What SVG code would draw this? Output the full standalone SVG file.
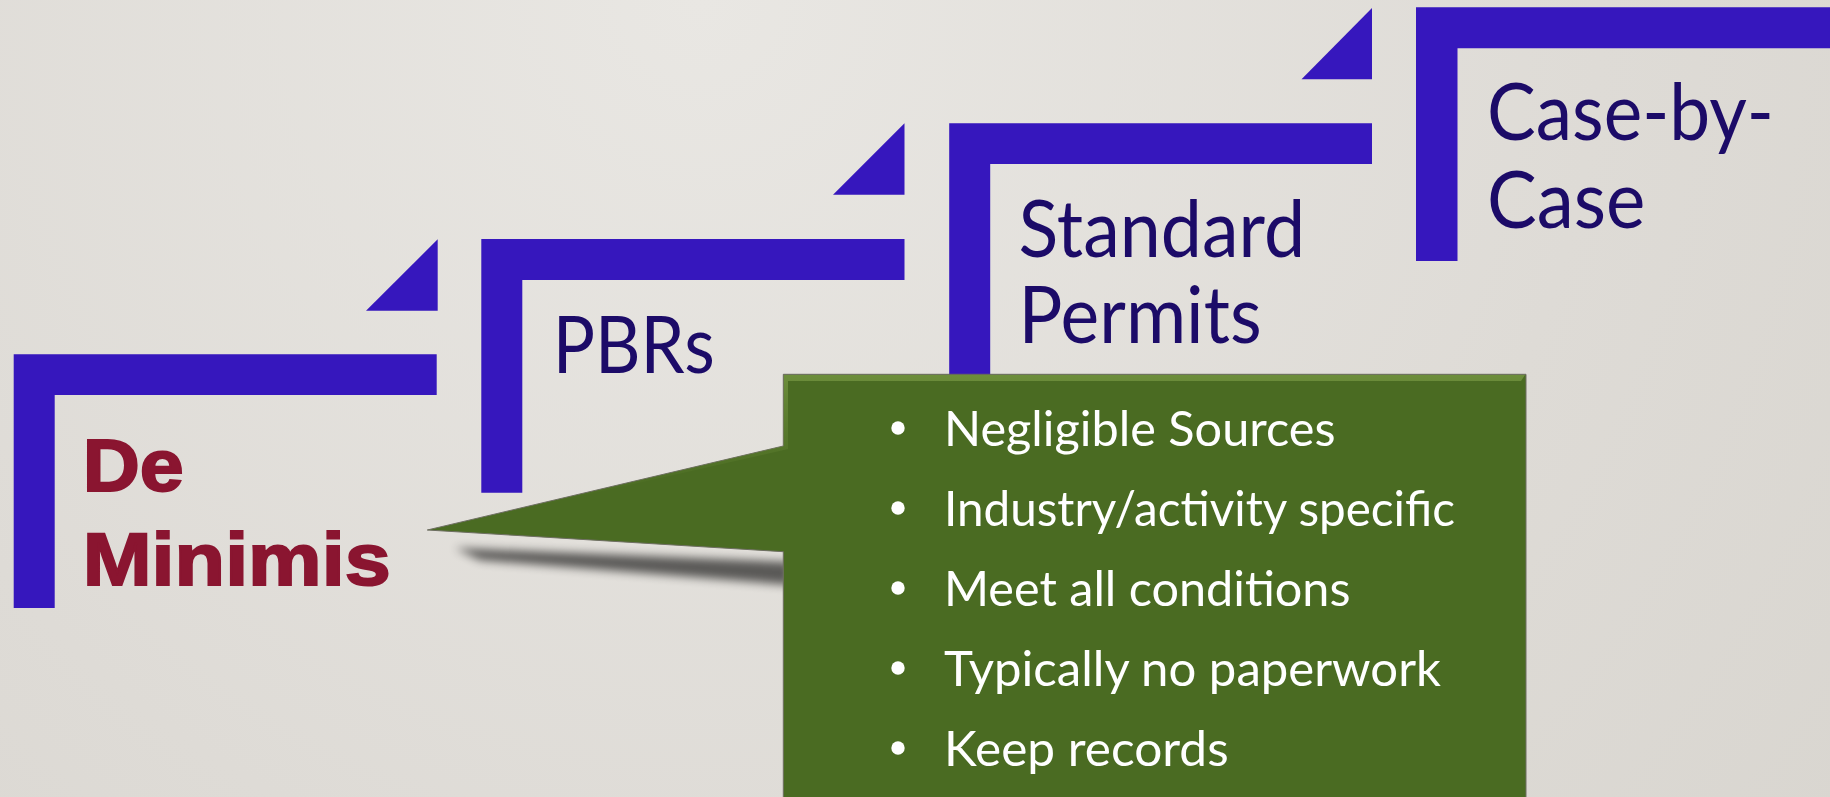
<svg xmlns="http://www.w3.org/2000/svg" width="1830" height="797" viewBox="0 0 1830 797">
  <defs>
    <radialGradient id="bg" cx="700" cy="0" r="1500" gradientUnits="userSpaceOnUse">
      <stop offset="0" stop-color="#E9E7E3"/>
      <stop offset="0.6" stop-color="#DEDBD6"/>
      <stop offset="1" stop-color="#D8D5CF"/>
    </radialGradient>
    <filter id="blur" x="-20%" y="-50%" width="140%" height="200%">
      <feGaussianBlur stdDeviation="5"/>
    </filter>
    <linearGradient id="bevelTop" x1="0" y1="0" x2="0" y2="1">
      <stop offset="0" stop-color="#7A9B45" stop-opacity="0.9"/>
      <stop offset="1" stop-color="#4A6B22" stop-opacity="0"/>
    </linearGradient>
  </defs>
  <style>
    .bar { fill: #3617BD; }
    .lbl { font-family: Lato, "Open Sans", "Liberation Sans", sans-serif; font-size: 80px; fill: #1C0B68; }
    .dm { font-family: "Liberation Sans", Arial, sans-serif; font-weight: bold; font-size: 75px; fill: #8A1530; stroke: #8A1530; stroke-width: 2; }
    .bul { font-family: Lato, "Open Sans", "Liberation Sans", sans-serif; font-size: 49px; fill: #FFFFFF; }
    .dot { fill: #FFFFFF; }
  </style>
  <rect x="0" y="0" width="1830" height="797" fill="url(#bg)"/>

  <g id="step-deminimis">
    <path class="bar" d="M13.7,354.3 H436.7 V395 H54.7 V608 H13.7 Z"/>
    <polygon class="bar" points="366,310.7 437.7,239.3 437.7,310.7"/>
    <text class="dm" x="82.7" y="490.7" textLength="101" lengthAdjust="spacingAndGlyphs">De</text>
    <text class="dm" x="82.7" y="585" textLength="308" lengthAdjust="spacingAndGlyphs">Minimis</text>
  </g>

  <g id="step-pbrs">
    <path class="bar" d="M481.3,239 H904.5 V280 H522.3 V492.7 H481.3 Z"/>
    <polygon class="bar" points="833,194.7 904.5,123.3 904.5,194.7"/>
    <text class="lbl" x="552.7" y="373.3" textLength="162" lengthAdjust="spacingAndGlyphs">PBRs</text>
  </g>

  <g id="step-standard">
    <path class="bar" d="M949.2,123.3 H1372 V164 H990.2 V377 H949.2 Z"/>
    <polygon class="bar" points="1301.5,79.3 1372,8 1372,79.3"/>
    <text class="lbl" x="1018.6" y="256.7" textLength="286.5" lengthAdjust="spacingAndGlyphs">Standard</text>
    <text class="lbl" x="1018.6" y="343.3" textLength="243" lengthAdjust="spacingAndGlyphs">Permits</text>
  </g>

  <g id="step-casebycase">
    <path class="bar" d="M1416,7.3 H1840 V48.3 H1457.5 V261 H1416 Z"/>
    <text class="lbl" x="1487" y="140" textLength="287" lengthAdjust="spacingAndGlyphs">Case-by-</text>
    <text class="lbl" x="1487" y="228.3" textLength="158.4" lengthAdjust="spacingAndGlyphs">Case</text>
  </g>

  <g id="callout">
    <polygon points="455,548 790,562 790,585 480,560" fill="#000" opacity="0.6" filter="url(#blur)"/>
    <path d="M783.3,374.3 H1526 V800 H783.3 V551.7 L427.3,530 L783.3,446 Z" fill="#4A6B22" stroke="#6E6E62" stroke-width="1"/>
    <path d="M784,375 H1525 L1521,381 H788 V449 L430,530 L783.3,446 Z" fill="url(#bevelTop)" opacity="0.8"/>
    <circle class="dot" cx="898" cy="428" r="6.7"/>
    <text class="bul" x="944" y="446" textLength="391.5" lengthAdjust="spacingAndGlyphs">Negligible Sources</text>
    <circle class="dot" cx="898" cy="508" r="6.7"/>
    <text class="bul" x="944" y="526" textLength="511" lengthAdjust="spacingAndGlyphs">Industry/activity specific</text>
    <circle class="dot" cx="898" cy="588" r="6.7"/>
    <text class="bul" x="944" y="606" textLength="406.5" lengthAdjust="spacingAndGlyphs">Meet all conditions</text>
    <circle class="dot" cx="898" cy="668" r="6.7"/>
    <text class="bul" x="944" y="686" textLength="497" lengthAdjust="spacingAndGlyphs">Typically no paperwork</text>
    <circle class="dot" cx="898" cy="748" r="6.7"/>
    <text class="bul" x="944" y="766" textLength="284.6" lengthAdjust="spacingAndGlyphs">Keep records</text>
  </g>

  <g id="connectors"/>
</svg>
